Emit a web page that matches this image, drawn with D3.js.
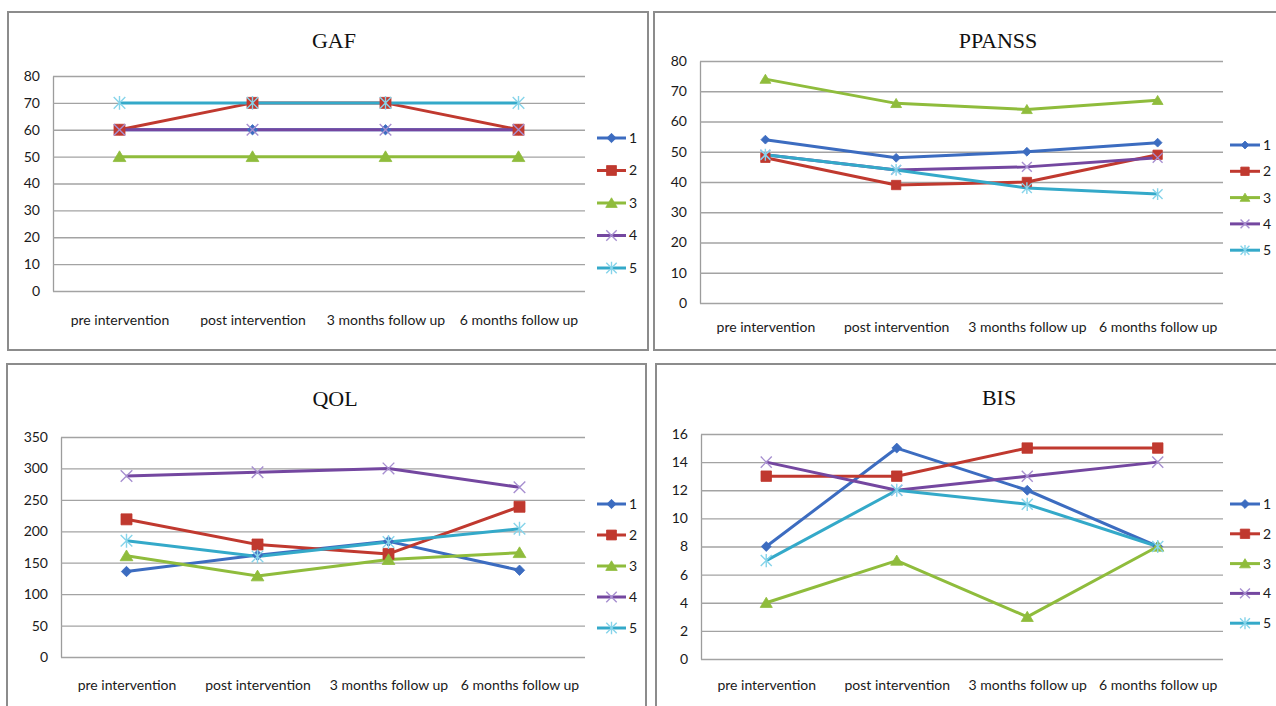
<!DOCTYPE html>
<html>
<head>
<meta charset="utf-8">
<script src="https://cdn.jsdelivr.net/npm/d3@7"></script>
<style>
  html, body { margin: 0; padding: 0; background: #fff; }
  svg { display: block; }
  .tick text, .legend text { font-family: Lato, "Open Sans", sans-serif; fill: #1a1a1a; }
  .title { font-family: "Liberation Serif", "Times New Roman", serif; fill: #111; }
</style>
</head>
<body>
<svg id="chart" width="1276" height="706"></svg>
<script>
// Time points shared by all four measures
const categories = ["pre intervention", "post intervention", "3 months follow up", "6 months follow up"];
const seriesNames = ["1", "2", "3", "4", "5"];

// Scores per participant (rows = participants 1..5, columns = time points)
const gafValues = [
  [60, 60, 60, 60],
  [60, 70, 70, 60],
  [50, 50, 50, 50],
  [60, 60, 60, 60],
  [70, 70, 70, 70]
];
const ppanssValues = [
  [54, 48, 50, 53],
  [48, 39, 40, 49],
  [74, 66, 64, 67],
  [49, 44, 45, 48],
  [49, 44, 38, 36]
];
const qolValues = [
  [136, 162, 184, 138],
  [219, 179, 164, 239],
  [161, 129, 155, 166],
  [288, 294, 300, 270],
  [185, 160, 183, 204]
];
const bisValues = [
  [8, 15, 12, 8],
  [13, 13, 15, 15],
  [4, 7, 3, 8],
  [14, 12, 13, 14],
  [7, 12, 11, 8]
];

// Axis tick labels
const gafTicks = [0, 10, 20, 30, 40, 50, 60, 70, 80];
const ppanssTicks = [0, 10, 20, 30, 40, 50, 60, 70, 80];
const qolTicks = [0, 50, 100, 150, 200, 250, 300, 350];
const bisTicks = [0, 2, 4, 6, 8, 10, 12, 14, 16];

// Series styling: line colour, marker shape, marker colour
const seriesStyle = [
  { color: "#3c6cc0", marker: "diamond", mcolor: "#3c6cc0" },
  { color: "#c0392f", marker: "square", mcolor: "#c0392f" },
  { color: "#8fbc3c", marker: "triangle", mcolor: "#8fbc3c" },
  { color: "#7447a0", marker: "x", mcolor: "#a78fd0" },
  { color: "#34a9c9", marker: "asterisk", mcolor: "#86d4ea" }
];

// Panel geometry
const panels = [
  { title: "GAF", values: gafValues, ticks: gafTicks,
    box: [8, 12, 640, 338], plot: { left: 53, right: 585, top: 76, bottom: 291 },
    titleXY: [334, 48], xLabelY: 325, markerScale: 1, legend: { x1: 597, x2: 626, y0: 138, dy: 32.5 } },
  { title: "PPANSS", values: ppanssValues, ticks: ppanssTicks,
    box: [654, 12, 700, 338], plot: { left: 700, right: 1223, top: 61, bottom: 303 },
    titleXY: [998, 48], xLabelY: 332, markerScale: 0.85, legend: { x1: 1230, x2: 1260, y0: 145, dy: 26.3 } },
  { title: "QOL", values: qolValues, ticks: qolTicks,
    box: [7, 364, 639, 400], plot: { left: 61, right: 585, top: 437, bottom: 657 },
    titleXY: [335, 406], xLabelY: 690, markerScale: 1, legend: { x1: 597, x2: 626, y0: 504, dy: 31 } },
  { title: "BIS", values: bisValues, ticks: bisTicks,
    box: [656, 364, 700, 400], plot: { left: 701, right: 1223, top: 434, bottom: 659 },
    titleXY: [999, 405], xLabelY: 690, markerScale: 0.95, legend: { x1: 1230, x2: 1260, y0: 504, dy: 29.8 } }
];

const svg = d3.select("#chart");

function markerPath(type, r) {
  switch (type) {
    case "diamond": return `M0,${-r}L${r},0L0,${r}L${-r},0Z`;
    case "square": return `M${-r},${-r}H${r}V${r}H${-r}Z`;
    case "triangle": return `M0,${-r}L${r * 1.1},${r * 0.85}L${-r * 1.1},${r * 0.85}Z`;
    case "x": return `M${-r},${-r}L${r},${r}M${-r},${r}L${r},${-r}`;
    case "asterisk": return `M${-r},${-r}L${r},${r}M${-r},${r}L${r},${-r}M0,${-r * 1.2}V${r * 1.2}`;
  }
}
const markerRadius = { diamond: 5.2, square: 5.5, triangle: 5.8, x: 5.8, asterisk: 5.8 };

function drawMarker(g, st, x, y, k) {
  const p = g.append("path")
    .attr("d", markerPath(st.marker, markerRadius[st.marker] * k))
    .attr("transform", `translate(${x},${y})`);
  if (st.marker === "x" || st.marker === "asterisk") {
    p.attr("fill", "none").attr("stroke", st.mcolor).attr("stroke-width", 1.4);
  } else {
    p.attr("fill", st.mcolor).attr("stroke", st.mcolor).attr("stroke-width", 0.8);
  }
}

panels.forEach(pn => {
  const g = svg.append("g");
  const [bx, by, bw, bh] = pn.box;
  g.append("rect").attr("x", bx).attr("y", by).attr("width", bw).attr("height", bh)
    .attr("fill", "#fff").attr("stroke", "#8c8c8c").attr("stroke-width", 2);

  const { left, right, top, bottom } = pn.plot;
  const x = d3.scalePoint().domain(categories).range([left, right]).padding(0.5);
  const y = d3.scaleLinear().domain([d3.min(pn.ticks), d3.max(pn.ticks)]).range([bottom, top]);

  // Horizontal gridlines + value labels
  const yAxis = g.append("g").attr("transform", `translate(${left},0)`)
    .call(d3.axisLeft(y).tickValues(pn.ticks).tickSize(-(right - left)).tickSizeOuter(0).tickPadding(13));
  yAxis.select(".domain").attr("stroke", "#9c9c9c").attr("stroke-width", 1.3);
  yAxis.selectAll(".tick line").attr("stroke", "#a3a3a3").attr("stroke-width", 1.3);
  yAxis.selectAll(".tick text").attr("font-size", 14);

  // Category labels
  const xAxis = g.append("g").attr("transform", `translate(0,${bottom})`)
    .call(d3.axisBottom(x).tickSize(0).tickPadding(pn.xLabelY - bottom - 10));
  xAxis.select(".domain").remove();
  xAxis.selectAll(".tick text").attr("font-size", 14);

  // Title
  g.append("text").attr("class", "title")
    .attr("x", pn.titleXY[0]).attr("y", pn.titleXY[1])
    .attr("text-anchor", "middle").attr("font-size", 22).text(pn.title);

  // All series lines first, markers on top
  const line = d3.line().x((d, i) => x(categories[i])).y(d => y(d));
  pn.values.forEach((vals, si) => {
    g.append("path").datum(vals).attr("d", line)
      .attr("fill", "none").attr("stroke", seriesStyle[si].color).attr("stroke-width", 3)
      .attr("stroke-linejoin", "round");
  });
  pn.values.forEach((vals, si) => {
    vals.forEach((v, i) => drawMarker(g, seriesStyle[si], x(categories[i]), y(v), pn.markerScale));
  });

  // Legend
  const lg = g.append("g").attr("class", "legend");
  seriesNames.forEach((name, si) => {
    const st = seriesStyle[si];
    const ly = pn.legend.y0 + si * pn.legend.dy;
    lg.append("line").attr("x1", pn.legend.x1).attr("x2", pn.legend.x2)
      .attr("y1", ly).attr("y2", ly).attr("stroke", st.color).attr("stroke-width", 3);
    drawMarker(lg, st, (pn.legend.x1 + pn.legend.x2) / 2, ly, pn.markerScale * 0.9);
    lg.append("text").attr("x", pn.legend.x2 + 3).attr("y", ly).attr("dy", "0.35em")
      .attr("font-size", 14).text(name);
  });
});
</script>
</body>
</html>
